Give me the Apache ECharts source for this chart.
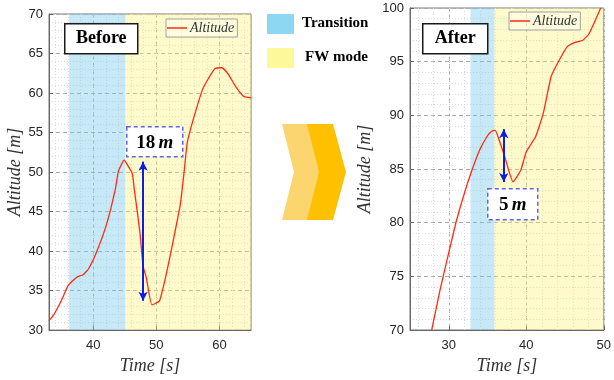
<!DOCTYPE html>
<html>
<head>
<meta charset="utf-8">
<script src="https://cdn.jsdelivr.net/npm/echarts@6/dist/echarts.min.js"></script>
<style>
  html, body { margin: 0; padding: 0; background: #fff; }
  #chart { width: 614px; height: 380px; }
</style>
</head>
<body>
<div id="chart"></div>
<script>
// "Before" flight: time [s] vs altitude [m]
const beforeTime = [33, 33.8, 35, 36, 37.4, 38.4, 39.3, 40.6, 42.2, 43.5, 44.0, 44.9, 45.5, 46.2, 46.5, 47.4, 47.9, 48.4, 49.3, 50.5, 51.5, 52.5, 53.8, 54.4, 54.9, 55.8, 57.3, 58.3, 59.3, 60.4, 61.4, 62.5, 63.8, 65];
const beforeAlt  = [31.2, 32.0, 33.8, 35.6, 36.7, 37.0, 37.8, 40.0, 43.6, 47.8, 50.1, 51.5, 50.8, 49.8, 47.9, 42.4, 38.1, 36.7, 33.2, 33.7, 36.8, 40.6, 45.9, 50.0, 53.7, 56.5, 60.4, 61.9, 63.1, 63.2, 62.4, 60.9, 59.6, 59.4];

// "After" flight
const afterTime = [27.8, 28.9, 30, 31, 32, 33, 34, 35, 35.5, 36.0, 36.5, 37.2, 38.3, 39.3, 40.0, 41.2, 42.2, 43.2, 44.3, 45.3, 46.3, 47.3, 48.1, 49.6];
const afterAlt  = [70, 73.8, 77.2, 80.2, 82.7, 84.9, 86.8, 88.1, 88.5, 88.6, 87.7, 86.2, 83.8, 84.9, 86.6, 88.0, 90.2, 93.6, 95.2, 96.4, 96.8, 97.0, 97.6, 100];

// flight phases [start, end]
const beforeTransition = [36.2, 45.1];
const beforeFW = [45.1, 65];
const afterTransition = [32.8, 35.9];
const afterFW = [35.9, 50];

// altitude drop arrows [time, top, bottom]
const beforeDrop = [47.9, 51.3, 33.7];
const afterDrop = [37.1, 88.7, 83.8];

const beforeXTicks = [40, 50, 60];
const afterXTicks = [30, 40, 50];

const chart = echarts.init(document.getElementById('chart'));

const tickFont = { fontFamily: 'Liberation Sans, Arial, sans-serif', fontSize: 13, color: '#262626' };
const nameFont = { fontFamily: 'Liberation Serif, serif', fontStyle: 'italic', fontSize: 18, color: '#333' };
const transColor = 'rgba(120,200,235,0.42)';
const fwColor = 'rgba(255,240,110,0.35)';
const lineColor = '#ff2a14';

function pairs(xs, ys) {
    return xs.map((x, i) => [x, ys[i]]);
}

function valueY(grid, min, max, gap) {
    return {
        type: 'value', gridIndex: grid, min: min, max: max, interval: 5,
        name: 'Altitude [m]', nameLocation: 'middle', nameGap: gap, nameTextStyle: nameFont,
        axisLine: { show: true, lineStyle: { color: '#666' } },
        axisTick: { show: true, inside: true, length: 4, lineStyle: { color: '#666' } },
        axisLabel: Object.assign({ margin: 6 }, tickFont),
        splitLine: { show: true, lineStyle: { color: '#aaa', type: [4, 3] } },
        minorTick: { show: false, splitNumber: 5 },
        minorSplitLine: { show: true, lineStyle: { color: '#dcdcdc', type: [1, 2] } }
    };
}

function majorX(grid, min, max, ticks) {
    return {
        type: 'value', gridIndex: grid, min: min, max: max,
        name: 'Time [s]', nameLocation: 'middle', nameGap: 24, nameTextStyle: nameFont,
        axisLine: { show: true, onZero: false, lineStyle: { color: '#666' } },
        axisTick: { show: true, inside: true, length: 4, customValues: ticks, lineStyle: { color: '#666' } },
        axisLabel: Object.assign({ margin: 9, customValues: ticks }, tickFont),
        splitLine: { show: true, lineStyle: { color: '#aaa', type: [4, 3] } }
    };
}

// hidden axis only used to draw the minor vertical grid every 2 s
function minorX(grid, min, max) {
    return {
        type: 'value', gridIndex: grid, min: min, max: max, interval: 1,
        position: 'bottom', offset: 0,
        axisLine: { show: false }, axisTick: { show: false }, axisLabel: { show: false },
        splitLine: { show: true, lineStyle: { color: ['rgba(0,0,0,0)', '#dcdcdc'], type: [1, 2] } }
    };
}

function boxLabel(x, y, w, h, text) {
    return {
        type: 'group', left: x, top: y, z: 100,
        children: [
            { type: 'rect', z: 100, shape: { x: 0, y: 0, width: w, height: h }, style: { fill: '#fff', stroke: '#1a1a1a', lineWidth: 1.5 } },
            { type: 'text', z: 101, x: w / 2, y: h / 2, style: { text: text, font: 'bold 18px "Liberation Serif", serif', fill: '#000', align: 'center', verticalAlign: 'middle' } }
        ]
    };
}

function dropLabel(x, y, w, h, num) {
    return {
        type: 'group', left: x, top: y, z: 100,
        children: [
            { type: 'rect', z: 100, shape: { x: 0, y: 0, width: w, height: h }, style: { fill: '#fff', stroke: '#5a64f0', lineWidth: 1.5, lineDash: [4, 3] } },
            { type: 'text', z: 101, x: w / 2, y: h / 2 + 1, style: {
                text: '{n|' + num + '} {m|m}', align: 'center', verticalAlign: 'middle',
                rich: {
                    n: { font: 'bold 19px "Liberation Serif", serif', fill: '#000' },
                    m: { font: 'italic bold 19px "Liberation Serif", serif', fill: '#000' }
                }
            } }
        ]
    };
}

function arrowLine(d) {
    return {
        silent: true, symbol: ['arrow', 'arrow'], symbolSize: [7, 9],
        label: { show: false },
        lineStyle: { color: '#0a1ee6', width: 2, type: 'solid' },
        data: [[{ coord: [d[0], d[1]] }, { coord: [d[0], d[2]] }]]
    };
}

function bands(trans, fw) {
    return {
        silent: true,
        data: [
            [{ xAxis: trans[0], itemStyle: { color: transColor } }, { xAxis: trans[1] }],
            [{ xAxis: fw[0], itemStyle: { color: fwColor } }, { xAxis: fw[1] }]
        ]
    };
}

const legendBase = {
    orient: 'horizontal', icon: 'rect', itemWidth: 20, itemHeight: 1.5, itemGap: 4,
    backgroundColor: 'rgba(255,255,235,0.55)', borderColor: '#a0a0a0', borderWidth: 1,
    borderRadius: 0, padding: [2, 3, 2, 1],
    textStyle: { fontFamily: 'Liberation Serif, serif', fontStyle: 'italic', fontSize: 14, color: '#333', padding: [0, 0, 0, -2] },
    data: ['Altitude'], selectedMode: false
};

const option = {
    animation: false,
    backgroundColor: '#fff',
    grid: [
        { left: 49, top: 14, width: 202, height: 317, show: true, borderColor: '#777', borderWidth: 1, backgroundColor: '#fff' },
        { left: 410, top: 8, width: 197, height: 322, show: true, borderColor: '#777', borderWidth: 1, backgroundColor: '#fff' }
    ],
    xAxis: [
        majorX(0, 33, 65, beforeXTicks),
        majorX(1, 25, 50, afterXTicks),
        minorX(0, 33, 65),
        minorX(1, 25, 50)
    ],
    yAxis: [
        valueY(0, 30, 70, 23),
        valueY(1, 70, 100, 36)
    ],
    legend: [
        Object.assign({ left: 166, top: 19 }, legendBase),
        Object.assign({ left: 509, top: 12 }, legendBase)
    ],
    series: [
        {
            name: 'Altitude', type: 'line', xAxisIndex: 0, yAxisIndex: 0,
            data: pairs(beforeTime, beforeAlt), showSymbol: false, symbol: 'none', smooth: 0.15,
            lineStyle: { color: lineColor, width: 1.3 }, itemStyle: { color: lineColor },
            markArea: bands(beforeTransition, beforeFW),
            markLine: arrowLine(beforeDrop)
        },
        {
            name: 'Altitude', type: 'line', xAxisIndex: 1, yAxisIndex: 1,
            data: pairs(afterTime, afterAlt), showSymbol: false, symbol: 'none', smooth: 0.15,
            lineStyle: { color: lineColor, width: 1.3 }, itemStyle: { color: lineColor },
            markArea: bands(afterTransition, afterFW),
            markLine: arrowLine(afterDrop)
        }
    ],
    graphic: [
        boxLabel(64, 23, 73, 30, 'Before'),
        boxLabel(422, 23, 65, 30, 'After'),
        dropLabel(126, 126, 56, 30, '18'),
        dropLabel(487, 188, 50, 31, '5'),
        // phase key in the middle
        { type: 'rect', left: 267, top: 14, shape: { width: 27, height: 20 }, style: { fill: '#8dd7f3' } },
        { type: 'text', left: 302, top: 16, style: { text: 'Transition', font: 'bold 15px "Liberation Serif", serif', fill: '#000' } },
        { type: 'rect', left: 267, top: 48, shape: { width: 27, height: 20 }, style: { fill: '#fdf99a' } },
        { type: 'text', left: 305, top: 50, style: { text: 'FW mode', font: 'bold 15px "Liberation Serif", serif', fill: '#000' } },
        // chevron arrow
        { type: 'polygon', shape: { points: [[282, 124], [320, 124], [333, 172], [320, 220], [282, 220], [294, 172]] }, style: { fill: '#fbd56e' } },
        { type: 'polygon', shape: { points: [[307, 124], [333, 124], [346, 172], [333, 220], [307, 220], [319, 172]] }, style: { fill: '#ffc000' } }
    ]
};

option && chart.setOption(option);
</script>
</body>
</html>
